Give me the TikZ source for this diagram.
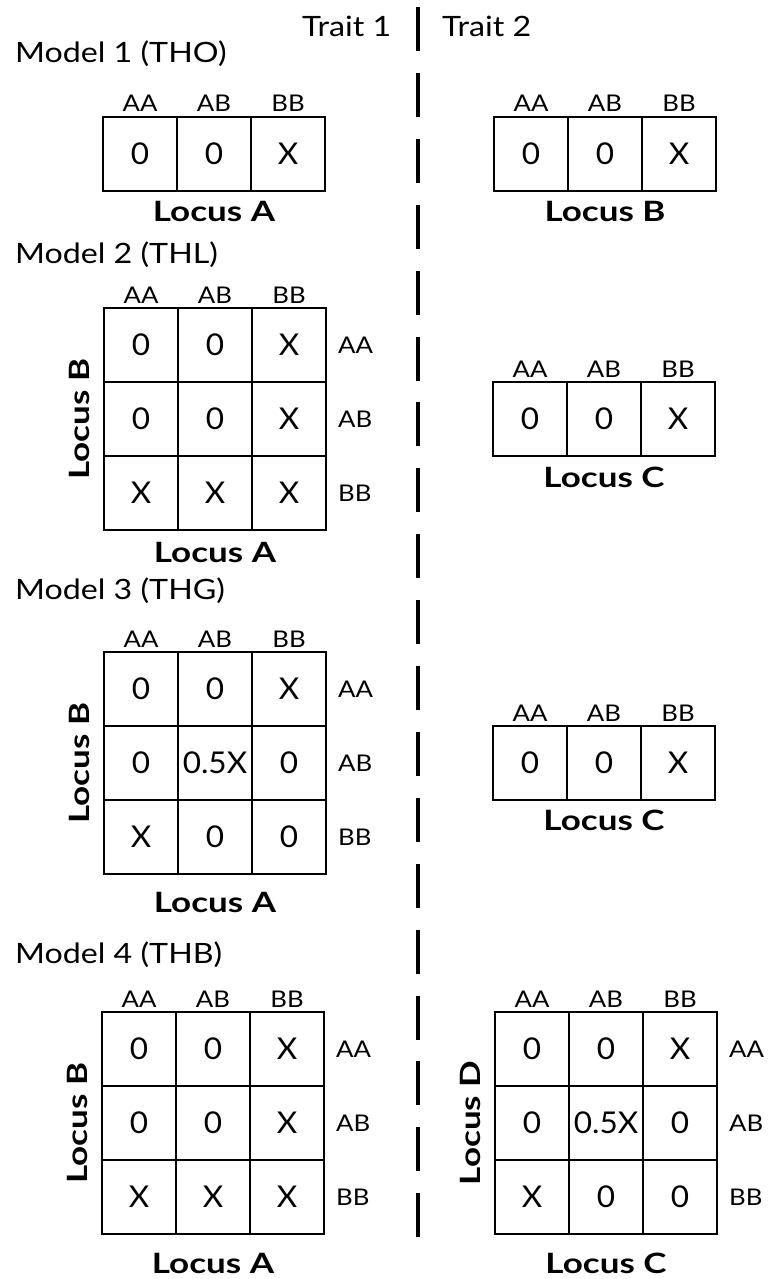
\documentclass[tikz,border=0pt]{standalone}
\usepackage{fontspec}
\setmainfont{Lato}
\newfontfamily\titlefont[FakeStretch=1.15]{Lato}
\newfontfamily\genofont[FakeStretch=1.12]{Lato}
\newfontfamily\cellfont[FakeStretch=1.05]{Lato}
\newfontfamily\locusfont[FakeStretch=1.25]{Lato}
\tikzset{
  cellline/.style={line width=2.4pt, draw=black},
  celltxt/.style={font=\cellfont\fontsize{30}{30}\selectfont, inner sep=0pt},
  genolbl/.style={font=\genofont\fontsize{23}{23}\selectfont, inner sep=0pt, anchor=base},
  rowlbl/.style={font=\genofont\fontsize{23}{23}\selectfont, inner sep=0pt, anchor=west},
  locuslbl/.style={font=\locusfont\bfseries\fontsize{28}{28}\selectfont, inner sep=0pt, anchor=base},
  locusvert/.style={font=\locusfont\bfseries\fontsize{28}{28}\selectfont, inner sep=0pt, anchor=center, rotate=90},
  titlelbl/.style={font=\titlefont\fontsize{28}{28}\selectfont, inner sep=0pt, anchor=base west},
  divider/.style={line width=4pt, dash pattern=on 44pt off 21.9pt}
}
% genotype table: #1 name, #2 left, #3 top, #4 entries row by row
\newcommand{\genotable}[4]{%
  \foreach \e [count=\i from 0] in {#4} {
    \pgfmathtruncatemacro{\r}{div(\i,3)}
    \pgfmathtruncatemacro{\c}{mod(\i,3)}
    \draw[cellline] ({#2+74*\c},{#3+74*\r}) rectangle ++(74,74);
    \node[celltxt] (#1-\r-\c) at ({#2+74*\c+37},{#3+74*\r+37}) {\e};
  }
  \foreach \g [count=\c from 0] in {AA,AB,BB}
    \node[genolbl] (#1-col\c) at ({#2+74*\c+37},{#3-5}) {\g};
}
% row genotype labels to the right of a 3x3 table
\newcommand{\rowlabels}[3]{%
  \foreach \g [count=\r from 0] in {AA,AB,BB}
    \node[rowlbl] (#1-row\r) at ({#2+222+12},{#3+74*\r+37}) {\g};
}
\begin{document}
\begin{tikzpicture}[x=1pt,y=-1pt]
\useasboundingbox (0,0) rectangle (770,1279);

% dividing line between the two traits
\coordinate (divtop) at (418,7);
\coordinate (divbot) at (418,1237);
\draw[divider] (divtop) -- (divbot);

\node[titlelbl] (trait1) at (302,37) {Trait 1};
\node[titlelbl] (trait2) at (442,37) {Trait 2};

% Model 1
\node[titlelbl] (m1) at (15,63) {Model 1 (THO)};
\genotable{m1a}{103}{117}{0,0,X}
\node[locuslbl] (m1alocus) at (214,221) {Locus A};
\genotable{m1b}{494}{117}{0,0,X}
\node[locuslbl] (m1blocus) at (605,221) {Locus B};

% Model 2
\node[titlelbl] (m2) at (15,263) {Model 2 (THL)};
\genotable{m2a}{104}{308}{0,0,X,0,0,X,X,X,X}
\rowlabels{m2a}{104}{308}
\node[locuslbl] (m2alocus) at (215,562) {Locus A};
\node[locusvert] (m2blocus) at (79,419) {Locus B};
\genotable{m2c}{493}{382}{0,0,X}
\node[locuslbl] (m2clocus) at (604,487) {Locus C};

% Model 3
\node[titlelbl] (m3) at (15,599) {Model 3 (THG)};
\genotable{m3a}{104}{652}{0,0,X,0,0.5X,0,X,0,0}
\rowlabels{m3a}{104}{652}
\node[locuslbl] (m3alocus) at (215,912) {Locus A};
\node[locusvert] (m3blocus) at (79,763) {Locus B};
\genotable{m3c}{493}{726}{0,0,X}
\node[locuslbl] (m3clocus) at (604,830) {Locus C};

% Model 4
\node[titlelbl] (m4) at (15,963) {Model 4 (THB)};
\genotable{m4a}{102}{1012}{0,0,X,0,0,X,X,X,X}
\rowlabels{m4a}{102}{1012}
\node[locuslbl] (m4alocus) at (213,1273) {Locus A};
\node[locusvert] (m4blocus) at (77,1123) {Locus B};
\genotable{m4c}{495}{1012}{0,0,X,0,0.5X,0,X,0,0}
\rowlabels{m4c}{495}{1012}
\node[locuslbl] (m4clocus) at (606,1273) {Locus C};
\node[locusvert] (m4dlocus) at (470,1123) {Locus D};
\end{tikzpicture}
\end{document}
